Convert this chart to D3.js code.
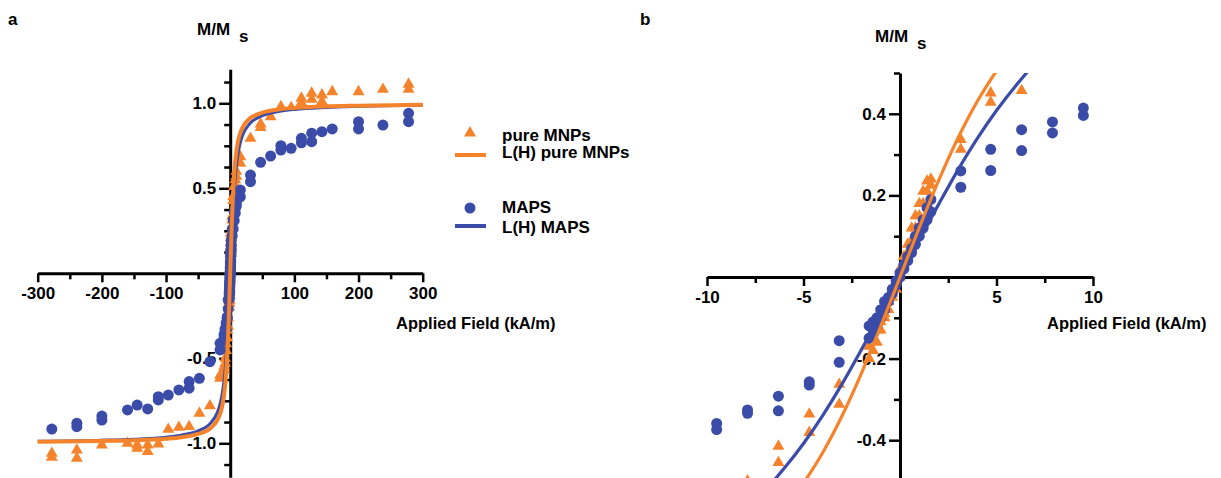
<!DOCTYPE html>
<html>
<head>
<meta charset="utf-8">
<script src="https://cdnjs.cloudflare.com/ajax/libs/d3/7.8.5/d3.min.js"></script>
<style>
body { margin: 0; background: #fff; }
svg text { font-family: "Liberation Sans", Arial, sans-serif; font-weight: bold; fill: #000; }
</style>
</head>
<body>
<div id="chart"></div>
<script>
// values: field H (kA/m), moment M/Ms

// pure MNPs (triangles)
var mnpField = [-278, -278, -239, -239, -200, -160, -145, -145, -128.6, -128.6, -112, -96.5, -80, -64, -48, -31.6, -15.8, -15.8, -9.5, -9.5, -7.9, -7.9, -6.3, -6.3, -4.7, -4.7, -3.15, -3.15,
  -1.6, -1.6, -1.4, -1.4, -1.2, -1.2, -1, -1, -0.8, -0.8, -0.6, -0.6, -0.4, -0.4, -0.2, -0.2, 0, 0, 0.2, 0.2, 0.4, 0.4, 0.6, 0.6, 0.8, 0.8, 1, 1, 1.2, 1.2, 1.4, 1.4, 1.6, 1.6,
  3.15, 3.15, 4.7, 4.7, 6.3, 6.3, 7.9, 7.9, 9.5, 9.5, 15.8, 15.8, 31.6, 47.4, 47.4, 63, 79, 95, 111, 111, 127, 127, 143, 143, 159, 200, 238, 278, 278];
var mnpMoment = [-1.059, -1.082, -1.04, -1.088, -1.01, -1.0, -1.01, -1.03, -1.01, -1.049, -1.004, -0.918, -0.906, -0.902, -0.824, -0.78, -0.60, -0.618, -0.55, -0.57, -0.50, -0.53, -0.415, -0.455, -0.336, -0.381, -0.263, -0.312,
  -0.20, -0.17, -0.18, -0.15, -0.16, -0.13, -0.13, -0.11, -0.10, -0.09, -0.08, -0.06, -0.05, -0.04, -0.03, -0.01, 0.0, 0.02, 0.03, 0.05, 0.06, 0.08, 0.09, 0.12, 0.12, 0.15, 0.15, 0.18, 0.18, 0.21, 0.21, 0.235, 0.225, 0.24,
  0.337, 0.313, 0.451, 0.428, 0.457, 0.51, 0.52, 0.55, 0.57, 0.60, 0.686, 0.647, 0.794, 0.878, 0.857, 0.921, 0.98, 0.975, 1.03, 1.004, 1.059, 1.024, 1.049, 1.01, 1.068, 1.068, 1.082, 1.112, 1.082];

// MAPS (circles)
var mapsField = [-278, -239, -239, -200, -200, -160, -145, -128.6, -112, -112, -96.5, -80, -64, -64, -48, -31.6, -15.8, -15.8, -9.5, -9.5, -7.9, -7.9, -6.3, -6.3, -4.7, -4.7, -3.15, -3.15,
  -1.6, -1.6, -1.4, -1.4, -1.2, -1.2, -1, -1, -0.8, -0.8, -0.6, -0.6, -0.4, -0.4, -0.2, -0.2, 0, 0, 0.2, 0.2, 0.4, 0.4, 0.6, 0.6, 0.8, 0.8, 1, 1, 1.2, 1.2, 1.4, 1.4, 1.6, 1.6,
  3.15, 3.15, 4.7, 4.7, 6.3, 6.3, 7.9, 7.9, 9.5, 9.5, 15.8, 15.8, 31.6, 31.6, 47.4, 63, 79, 79, 95, 111, 111, 127, 127, 143, 159, 200, 200, 238, 278, 278];
var mapsMoment = [-0.916, -0.882, -0.902, -0.84, -0.863, -0.804, -0.775, -0.798, -0.745, -0.726, -0.716, -0.686, -0.637, -0.676, -0.618, -0.52, -0.451, -0.412, -0.359, -0.374, -0.326, -0.334, -0.292, -0.328, -0.257, -0.265, -0.156, -0.209,
  -0.15, -0.12, -0.14, -0.11, -0.12, -0.10, -0.10, -0.08, -0.08, -0.06, -0.06, -0.05, -0.04, -0.03, -0.02, -0.01, 0.0, 0.01, 0.02, 0.03, 0.04, 0.05, 0.06, 0.07, 0.08, 0.10, 0.10, 0.12, 0.12, 0.14, 0.14, 0.17, 0.16, 0.19,
  0.26, 0.22, 0.313, 0.261, 0.361, 0.31, 0.38, 0.353, 0.414, 0.396, 0.49, 0.45, 0.578, 0.539, 0.653, 0.69, 0.725, 0.751, 0.735, 0.794, 0.768, 0.824, 0.774, 0.833, 0.849, 0.892, 0.849, 0.872, 0.941, 0.892];

// L(H) fit curves
var fitField = [-300, -200, -150, -100, -75, -50, -30, -20, -15, -12.5, -10, -8, -7, -6, -5, -4, -3, -2, -1, 0,
  1, 2, 3, 4, 5, 6, 7, 8, 10, 12.5, 15, 20, 30, 50, 75, 100, 150, 200, 300];
var fitMnp = [-0.991, -0.986, -0.982, -0.973, -0.964, -0.945, -0.909, -0.863, -0.818, -0.782, -0.728, -0.664, -0.622, -0.570, -0.505, -0.430, -0.340, -0.236, -0.121, 0,
  0.121, 0.236, 0.340, 0.430, 0.505, 0.570, 0.622, 0.664, 0.728, 0.782, 0.818, 0.863, 0.909, 0.945, 0.964, 0.973, 0.982, 0.986, 0.991];
var fitMaps = [-0.988, -0.982, -0.976, -0.964, -0.951, -0.927, -0.878, -0.818, -0.757, -0.710, -0.643, -0.569, -0.523, -0.469, -0.408, -0.339, -0.262, -0.178, -0.091, 0,
  0.091, 0.178, 0.262, 0.339, 0.408, 0.469, 0.523, 0.569, 0.643, 0.710, 0.757, 0.818, 0.878, 0.927, 0.951, 0.964, 0.976, 0.982, 0.988];

// axis ticks
var aMajorX = [-300, -200, -100, 100, 200, 300],
    aMinorX = [-250, -150, -50, 50, 150, 250],
    aMajorY = [-1, -0.5, 0.5, 1],
    aMinorY = [-1.125, -0.875, -0.75, -0.625, -0.375, -0.25, -0.125, 0.125, 0.25, 0.375, 0.625, 0.75, 0.875, 1.125];
var bMajorX = [-10, -5, 5, 10],
    bMinorX = [-7.5, -2.5, 2.5, 7.5],
    bMajorY = [-0.4, -0.2, 0.2, 0.4],
    bMinorY = [-0.5, -0.3, -0.1, 0.1, 0.3, 0.5];

var orange = "#F4832B",
    blue = "#3B4BA8";

var mnpPts = mnpField.map(function(h, i) { return {h: h, m: mnpMoment[i]}; });
var mapsPts = mapsField.map(function(h, i) { return {h: h, m: mapsMoment[i]}; });
var mnpFit = fitField.map(function(h, i) { return {h: h, m: fitMnp[i]}; });
var mapsFit = fitField.map(function(h, i) { return {h: h, m: fitMaps[i]}; });

var svg = d3.select("#chart").append("svg")
    .attr("width", 1221)
    .attr("height", 478);

var tri = d3.symbol().type(d3.symbolTriangle).size(62);

function drawPanel(p) {
  var x = d3.scaleLinear().domain(p.xDomain).range(p.xRange);
  var y = d3.scaleLinear().domain(p.yDomain).range(p.yRange);
  var g = svg.append("g");

  function styleAxis(ax, hideDomain) {
    ax.attr("font-size", 17).attr("font-family", null);
    ax.select(".domain").attr("stroke-width", 3).attr("stroke", hideDomain ? "none" : "#000");
    ax.selectAll(".tick line").attr("stroke-width", 2.5);
  }

  // x axis
  var xMin = g.append("g").attr("transform", "translate(0," + y(0) + ")")
      .call(d3.axisBottom(x).tickValues(p.xMinor).tickSize(6).tickSizeOuter(0).tickFormat(""));
  styleAxis(xMin, false);
  var xMaj = g.append("g").attr("transform", "translate(0," + y(0) + ")")
      .call(d3.axisBottom(x).tickValues(p.xMajor).tickSize(9).tickPadding(5).tickSizeOuter(0)
      .tickFormat(function(d) { return String(d); }));
  styleAxis(xMaj, true);

  // y axis
  var yMin = g.append("g").attr("transform", "translate(" + x(0) + ",0)")
      .call(d3.axisLeft(y).tickValues(p.yMinor).tickSize(6).tickSizeOuter(0).tickFormat(""));
  styleAxis(yMin, false);
  var yMaj = g.append("g").attr("transform", "translate(" + x(0) + ",0)")
      .call(d3.axisLeft(y).tickValues(p.yMajor).tickSize(11).tickPadding(3).tickSizeOuter(0)
      .tickFormat(function(d) { return d.toFixed(1); }));
  styleAxis(yMaj, true);

  var inside = function(d) {
    return d.h >= p.xDomain[0] && d.h <= p.xDomain[1] && d.m >= p.yDomain[0] && d.m <= p.yDomain[1];
  };

  // clip for the fit lines
  var clipId = "clip_" + p.name;
  svg.append("clipPath").attr("id", clipId)
    .append("rect")
    .attr("x", x(p.xDomain[0]) - 5)
    .attr("y", y(p.yDomain[1]))
    .attr("width", x(p.xDomain[1]) - x(p.xDomain[0]) + 10)
    .attr("height", y(p.yDomain[0]) - y(p.yDomain[1]));

  // points
  g.selectAll(".tri").data(mnpPts.filter(inside)).enter()
    .append("path")
    .attr("d", tri)
    .attr("transform", function(d) { return "translate(" + x(d.h) + "," + y(d.m) + ")"; })
    .style("fill", orange);

  g.selectAll(".dot").data(mapsPts.filter(inside)).enter()
    .append("circle")
    .attr("cx", function(d) { return x(d.h); })
    .attr("cy", function(d) { return y(d.m); })
    .attr("r", 5.5)
    .style("fill", blue);

  // fit lines
  var line = d3.line()
    .x(function(d) { return x(d.h); })
    .y(function(d) { return y(d.m); })
    .curve(d3.curveMonotoneX);

  g.append("path").datum(mapsFit)
    .attr("clip-path", "url(#" + clipId + ")")
    .attr("fill", "none")
    .attr("stroke", blue)
    .attr("stroke-width", p.blueWidth)
    .attr("d", line);

  g.append("path").datum(mnpFit)
    .attr("clip-path", "url(#" + clipId + ")")
    .attr("fill", "none")
    .attr("stroke", orange)
    .attr("stroke-width", p.orangeWidth)
    .attr("d", line);

  // labels
  svg.append("text").attr("x", p.letter[0]).attr("y", p.letter[1]).style("font-size", "17px").text(p.name);
  svg.append("text").attr("x", p.yLab[0]).attr("y", p.yLab[1]).style("font-size", "17px").text("M/M");
  svg.append("text").attr("x", p.yLab[0] + 42).attr("y", p.yLab[1] + 7).style("font-size", "17px").text("s");
  svg.append("text").attr("x", p.xLab[0]).attr("y", p.xLab[1]).style("font-size", "16.5px").text("Applied Field (kA/m)");
}

drawPanel({
  name: "a",
  xDomain: [-300, 300], xRange: [37.7, 422.7],
  yDomain: [-1.2, 1.2], yRange: [477.3, 69.3],
  xMajor: aMajorX, xMinor: aMinorX, yMajor: aMajorY, yMinor: aMinorY,
  orangeWidth: 4, blueWidth: 3,
  letter: [8, 25], yLab: [197, 35], xLab: [396, 329]
});

drawPanel({
  name: "b",
  xDomain: [-10, 10], xRange: [707, 1093],
  yDomain: [-0.5, 0.5], yRange: [481, 73],
  xMajor: bMajorX, xMinor: bMinorX, yMajor: bMajorY, yMinor: bMinorY,
  orangeWidth: 3.2, blueWidth: 3.2,
  letter: [640, 25], yLab: [875, 42], xLab: [1047, 329]
});

// legend
var leg = svg.append("g");
leg.append("path").attr("d", tri).attr("transform", "translate(470,133)").style("fill", orange);
leg.append("line").attr("x1", 455).attr("x2", 486).attr("y1", 155).attr("y2", 155)
  .attr("stroke", orange).attr("stroke-width", 4);
leg.append("circle").attr("cx", 470).attr("cy", 208).attr("r", 5.5).style("fill", blue);
leg.append("line").attr("x1", 455).attr("x2", 486).attr("y1", 226).attr("y2", 226)
  .attr("stroke", blue).attr("stroke-width", 4);
leg.append("text").attr("x", 502).attr("y", 141).style("font-size", "17px").text("pure MNPs");
leg.append("text").attr("x", 502).attr("y", 158).style("font-size", "17px").text("L(H) pure MNPs");
leg.append("text").attr("x", 502).attr("y", 213).style("font-size", "17px").text("MAPS");
leg.append("text").attr("x", 502).attr("y", 233).style("font-size", "17px").text("L(H) MAPS");
</script>
</body>
</html>
